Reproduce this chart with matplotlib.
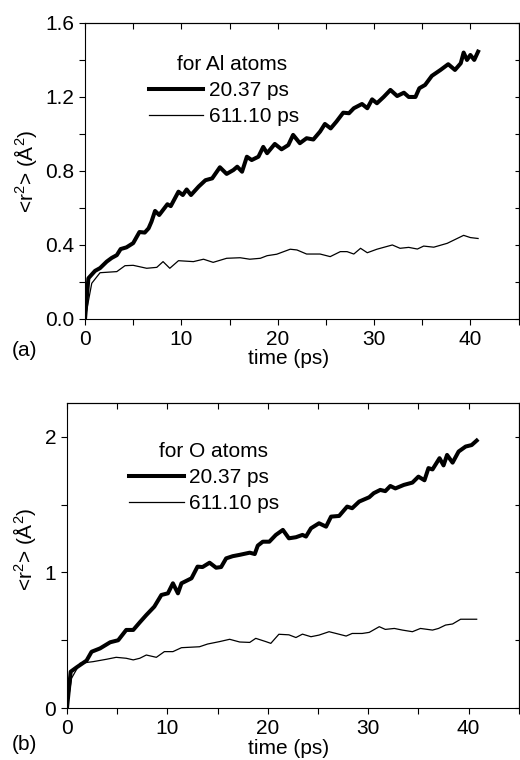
import matplotlib
matplotlib.use('Agg')
import matplotlib.pyplot as plt
from matplotlib.ticker import MultipleLocator, FormatStrFormatter

plt.rcParams['font.family'] = ['Liberation Sans', 'DejaVu Sans']
plt.rcParams['mathtext.fontset'] = 'custom'
plt.rcParams['mathtext.rm'] = 'Liberation Sans'
plt.rcParams['mathtext.it'] = 'Liberation Sans'
plt.rcParams['font.size'] = 15

# (a) Al atoms, quench 20.37 ps
t_al_fast = [0, 0.35, 1.04, 1.56, 2.25, 2.77, 3.3, 3.7, 4.3, 5.0,
             5.65, 6.2, 6.6, 6.9, 7.27, 7.7, 8.55, 8.9, 9.7, 10.15,
             10.55, 11.0, 11.8, 12.5, 13.2, 14.0, 14.7, 15.4, 15.8, 16.3,
             16.8, 17.3, 18.0, 18.5, 18.9, 19.7, 20.4, 21.1, 21.6, 22.3,
             23.0, 23.7, 24.4, 24.9, 25.5, 26.1, 26.8, 27.4, 27.9, 28.75,
             29.3, 29.8, 30.3, 31.0, 31.7, 32.4, 33.1, 33.6, 34.3, 34.7,
             35.3, 36.0, 36.9, 37.7, 38.4, 39.0, 39.3, 39.65, 40.0, 40.4, 40.8]
r2_al_fast = [0, 0.22, 0.26, 0.275, 0.31, 0.33, 0.345, 0.378, 0.387, 0.41,
              0.47, 0.467, 0.49, 0.526, 0.584, 0.562, 0.62, 0.61, 0.688, 0.67,
              0.70, 0.67, 0.716, 0.75, 0.76, 0.82, 0.784, 0.805, 0.823, 0.796,
              0.877, 0.859, 0.877, 0.93, 0.896, 0.946, 0.917, 0.94, 0.995, 0.95,
              0.977, 0.97, 1.013, 1.054, 1.03, 1.067, 1.115, 1.112, 1.139, 1.162,
              1.139, 1.187, 1.166, 1.20, 1.238, 1.205, 1.223, 1.20, 1.20, 1.247,
              1.265, 1.314, 1.346, 1.377, 1.346, 1.382, 1.44, 1.40, 1.427, 1.40, 1.445]

# (a) Al atoms, quench 611.10 ps
t_al_slow = [0, 0.7, 1.56, 3.3, 4.15, 5.0, 6.4, 7.45, 8.1, 8.8,
             9.7, 11.25, 12.3, 13.3, 14.7, 16.1, 17.1, 18.2, 18.9, 19.9,
             21.3, 22.0, 23.0, 24.4, 25.45, 26.5, 27.2, 27.9, 28.6, 29.3,
             30.3, 31.9, 32.7, 33.6, 34.5, 35.15, 36.2, 37.6, 39.3, 40.0, 40.8]
r2_al_slow = [0, 0.193, 0.25, 0.256, 0.288, 0.29, 0.274, 0.279, 0.31, 0.274,
              0.315, 0.31, 0.323, 0.306, 0.328, 0.331, 0.323, 0.328, 0.342, 0.35,
              0.377, 0.373, 0.351, 0.351, 0.337, 0.364, 0.364, 0.351, 0.382, 0.358,
              0.377, 0.40, 0.382, 0.387, 0.378, 0.394, 0.388, 0.409, 0.452, 0.44, 0.435]

# (b) O atoms, quench 20.37 ps
t_o_fast = [0, 0.37, 0.96, 1.95, 2.45, 3.3, 4.3, 5.1, 5.9, 6.6,
            7.25, 7.9, 8.7, 9.4, 10.05, 10.55, 11.05, 11.4, 12.4, 13.0,
            13.5, 14.2, 14.85, 15.35, 15.85, 16.5, 17.2, 18.2, 18.7, 19.0,
            19.5, 20.15, 20.8, 21.5, 22.1, 22.8, 23.45, 23.8, 24.3, 25.1,
            25.8, 26.3, 27.1, 27.9, 28.4, 29.1, 30.1, 30.55, 31.2, 31.7,
            32.2, 32.7, 33.55, 34.4, 35.0, 35.6, 36.0, 36.4, 37.1, 37.5,
            37.85, 38.4, 39.0, 39.7, 40.3, 40.8]
r2_o_fast = [0, 0.268, 0.30, 0.35, 0.415, 0.44, 0.485, 0.50, 0.576, 0.576,
             0.632, 0.686, 0.748, 0.834, 0.846, 0.92, 0.846, 0.92, 0.957, 1.043,
             1.04, 1.072, 1.035, 1.04, 1.104, 1.12, 1.13, 1.146, 1.136, 1.198,
             1.227, 1.227, 1.277, 1.314, 1.252, 1.26, 1.277, 1.265, 1.326, 1.363,
             1.338, 1.412, 1.417, 1.486, 1.474, 1.523, 1.555, 1.585, 1.609, 1.60,
             1.638, 1.62, 1.646, 1.663, 1.707, 1.68, 1.77, 1.76, 1.843, 1.79,
             1.867, 1.81, 1.892, 1.929, 1.94, 1.973]

# (b) O atoms, quench 611.10 ps
t_o_slow = [0, 0.46, 1.3, 2.6, 3.96, 4.9, 5.9, 6.6, 7.25, 7.9,
            8.9, 9.7, 10.55, 11.4, 13.2, 14.0, 15.2, 16.2, 17.2, 18.2,
            18.8, 19.8, 20.3, 21.1, 22.1, 22.8, 23.45, 24.3, 25.1, 26.1,
            26.8, 27.8, 28.4, 29.4, 30.1, 31.1, 31.7, 32.6, 33.4, 34.4,
            35.2, 36.4, 37.0, 37.7, 38.4, 39.2, 40.8]
r2_o_slow = [0, 0.22, 0.33, 0.342, 0.36, 0.374, 0.367, 0.355, 0.367, 0.391,
             0.374, 0.416, 0.416, 0.445, 0.452, 0.472, 0.49, 0.507, 0.487, 0.484,
             0.514, 0.49, 0.477, 0.544, 0.54, 0.52, 0.545, 0.526, 0.538, 0.563,
             0.55, 0.531, 0.55, 0.55, 0.558, 0.60, 0.58, 0.587, 0.575, 0.563,
             0.587, 0.575, 0.587, 0.612, 0.62, 0.655, 0.655]

labels = ['20.37 ps', '611.10 ps']


def style_axis(ax, ymax, ymajor, yminor, yright):
    ax.set_xlim(0, 45)
    ax.set_ylim(0, ymax)
    ax.xaxis.set_major_locator(MultipleLocator(10))
    ax.xaxis.set_minor_locator(MultipleLocator(5))
    ax.yaxis.set_major_locator(MultipleLocator(ymajor))
    ax.yaxis.set_minor_locator(MultipleLocator(yminor))
    ax.tick_params(which='both', direction='out', length=4.3, width=0.8, pad=3.5,
                   top=False, right=False, labelsize=15)
    for s in ax.spines.values():
        s.set_linewidth(0.8)
    # mirrored ticks pointing inward on top and right
    top = ax.secondary_xaxis('top')
    top.xaxis.set_major_locator(MultipleLocator(5))
    top.tick_params(direction='in', length=4.3, width=0.8, labeltop=False)
    right = ax.secondary_yaxis('right')
    right.yaxis.set_major_locator(MultipleLocator(yright))
    right.tick_params(direction='in', length=3, width=0.8, labelright=False)
    ax.set_xlabel('time (ps)', fontsize=15)
    ax.set_ylabel('<r$^2$> (Å$^2$)', fontsize=15)


fig = plt.figure(figsize=(5.2, 7.6), dpi=100)
ax1 = fig.add_axes([0.1635, 0.5803, 0.8337, 0.3895])
ax2 = fig.add_axes([0.1288, 0.0684, 0.8690, 0.4013])

ax1.plot(t_al_fast, r2_al_fast, color='black', lw=2.9, solid_joinstyle='round', label=labels[0])
ax1.plot(t_al_slow, r2_al_slow, color='black', lw=0.9, label=labels[1])
style_axis(ax1, 1.6, 0.4, 0.2, 0.2)
ax1.yaxis.set_major_formatter(FormatStrFormatter('%.1f'))
ax1.xaxis.set_label_coords(0.47, -0.10)
ax1.yaxis.set_label_coords(-0.105, 0.5)
leg1 = ax1.legend(title='for Al atoms', frameon=False, loc='upper left',
                  bbox_to_anchor=(0.124, 0.926), borderpad=0, handlelength=2.6,
                  handletextpad=0.25, labelspacing=0.33, fontsize=15, title_fontsize=15)
leg1.get_title().set_position((8, 0))

ax2.plot(t_o_fast, r2_o_fast, color='black', lw=2.9, solid_joinstyle='round', label=labels[0])
ax2.plot(t_o_slow, r2_o_slow, color='black', lw=0.9, label=labels[1])
style_axis(ax2, 2.25, 1, 0.5, 0.5)
ax2.xaxis.set_label_coords(0.49, -0.103)
ax2.yaxis.set_label_coords(-0.065, 0.52)
leg2 = ax2.legend(title='for O atoms', frameon=False, loc='upper left',
                  bbox_to_anchor=(0.115, 0.905), borderpad=0, handlelength=2.6,
                  handletextpad=0.25, labelspacing=0.33, fontsize=15, title_fontsize=15)
leg2.get_title().set_position((9, 0))

fig.text(0.023, 1 - 350 / 760, '(a)', fontsize=15, va='center')
fig.text(0.023, 1 - 745 / 760, '(b)', fontsize=15, va='center')

fig.savefig('out.png', dpi=100)
